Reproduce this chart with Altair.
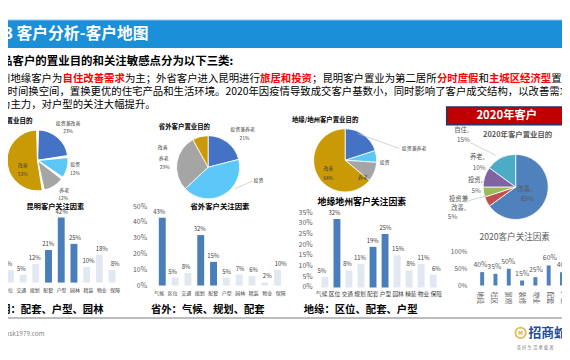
import altair as alt
import pandas as pd

FONT = "Noto Sans CJK SC"
OFF = 8
W, H = 562, 352

# ---------------- data ----------------
factor_cats = ["气候", "区位", "交通", "规划", "配套", "户型", "园林", "精装", "物业", "保障"]
km_vals = [2, 8, 5, 12, 21, 42, 25, 10, 18, 8]
km_hi = ["配套", "户型", "园林"]
sw_vals = [43, 5, 8, 32, 15, 5, 7, 6, 2, 10]
sw_hi = ["气候", "规划", "配套"]
dy_vals = [5, 32, 8, 11, 19, 25, 15, 8, 11, 6]
dy_hi = ["区位", "配套", "户型"]
y20_cats = ["地段", "社区", "景观", "装修", "物业", "配套", "户型"]
y20_vals = [40, 35, 50, 15, 25, 60, 40]

km_purpose_cats = ["投资兼改善", "投资", "养老", "改善"]
km_purpose = [23, 12, 12, 53]
sw_purpose_cats = ["投资兼养老", "投资", "养老", "改善"]
sw_purpose = [21, 42, 29, 8]
dy_purpose_cats = ["投资兼养老", "投资", "养老", "改善"]
dy_purpose = [20, 6, 10, 64]
y20_purpose_cats = ["改善", "投资兼改善", "投资", "养老", "自住"]
y20_purpose = [65, 5, 5, 10, 15]

# ---------------- styles ----------------
PIE_A = ["#4472c4", "#5bc8f8", "#a5a5a5", "#c99a06"]
PIE_B = ["#4f81bd", "#c0504d", "#9bbb59", "#8064a2", "#4bacc6"]
HI, LO = "#4a7ebb", "#e1e8f1"
DARK = "#404040"
GRAY = "#595959"

layers = []


def X(v):
    return v - OFF


def Y(v):
    return v - OFF


def one():
    return pd.DataFrame({"a": [0]})


def txt(s, x, y, size=7, color=DARK, weight="normal", align="left", angle=0):
    df = pd.DataFrame({"t": [s]})
    layers.append(
        alt.Chart(df).mark_text(font=FONT, fontSize=size, color=color, fontWeight=weight,
                                align=align, baseline="middle", angle=angle)
        .encode(x=alt.value(X(x)), y=alt.value(Y(y)), text="t:N"))


def rect(x1, y1, x2, y2, fill, stroke=None, sw=0):
    kw = dict(fill=fill)
    if stroke:
        kw.update(stroke=stroke, strokeWidth=sw)
    layers.append(alt.Chart(one()).mark_rect(**kw).encode(
        x=alt.value(X(x1)), x2=alt.value(X(x2)), y=alt.value(Y(y1)), y2=alt.value(Y(y2))))


def rule(x1, y1, x2, y2, color="#bfbfbf", sw=0.7):
    layers.append(alt.Chart(one()).mark_rule(color=color, strokeWidth=sw).encode(
        x=alt.value(X(x1)), x2=alt.value(X(x2)), y=alt.value(Y(y1)), y2=alt.value(Y(y2))))


def pie(cats, vals, colors, cx, cy, r, pad=0.0, sw=0.8):
    df = pd.DataFrame({"cat": cats, "v": vals, "i": list(range(len(cats)))})
    layers.append(
        alt.Chart(df).mark_arc(radius=r, padAngle=pad, stroke="white", strokeWidth=sw)
        .encode(theta=alt.Theta("v:Q", stack=True),
                color=alt.Color("cat:N", scale=alt.Scale(domain=cats, range=colors), legend=None),
                order=alt.Order("i:Q"),
                x=alt.value(X(cx)), y=alt.value(Y(cy))))


def bars(cats, vals, hi, first_left, step, bw, base_y, top_val, top_y,
         val_fs=6, cat_fs=5, cat_y=292, cat_angle=0, hi_c=HI, lo_c=LO,
         ticks=None, tick_x=None, tick_fs=7, val_dy=-6, val_color=DARK):
    n = len(cats)
    pi = 1 - bw / step
    po = 0.5
    x0 = first_left - step * po
    x1 = x0 + step * (n - pi + 2 * po)
    df = pd.DataFrame({"cat": cats, "val": vals,
                       "hi": [c in hi for c in cats],
                       "lab": [f"{v}%" for v in vals]})
    xs = alt.X("cat:N", sort=cats, axis=None,
               scale=alt.Scale(domain=cats, range=[X(x0), X(x1)], paddingInner=pi, paddingOuter=po))
    ys = alt.Y("val:Q", axis=None,
               scale=alt.Scale(domain=[0, top_val], range=[Y(base_y), Y(top_y)], nice=False, zero=True))
    base = alt.Chart(df)
    layers.append(base.mark_bar().encode(
        x=xs, y=ys, color=alt.condition("datum.hi", alt.value(hi_c), alt.value(lo_c))))
    layers.append(base.mark_text(font=FONT, fontSize=val_fs, color=val_color, dy=val_dy,
                                 baseline="middle").encode(x=xs, y=ys, text="lab:N"))
    if cat_angle:
        layers.append(base.mark_text(font=FONT, fontSize=cat_fs, color=GRAY, angle=cat_angle,
                                     align="left", baseline="middle")
                      .encode(x=xs, y=alt.value(Y(cat_y)), text="cat:N"))
    else:
        layers.append(base.mark_text(font=FONT, fontSize=cat_fs, color=DARK, baseline="middle")
                      .encode(x=xs, y=alt.value(Y(cat_y)), text="cat:N"))
    if ticks is not None:
        tdf = pd.DataFrame({"t": ticks, "lab": [f"{t}%" for t in ticks]})
        ty = alt.Y("t:Q", axis=None,
                   scale=alt.Scale(domain=[0, top_val], range=[Y(base_y), Y(top_y)], nice=False, zero=True))
        layers.append(alt.Chart(tdf).mark_text(font=FONT, fontSize=tick_fs, color=GRAY,
                                               align="right", baseline="middle")
                      .encode(x=alt.value(X(tick_x)), y=ty, text="lab:N"))


# ---------------- header ----------------
rule(-10, 17, 580, 17, color="#bfe0f4", sw=1)
rect(-10, 18, 580, 46, "#1b8fd7")
txt("1.3 客户分析-客户地图", -11, 32, size=16, color="white", weight="bold")

txt("品客户的置业目的和关注敏感点分为以下三类:", 1, 60, size=11.6, color="#000000", weight="bold")

FS = 10.55
segs = [("州地缘客户为", "#000000"), ("自住改善需求", "#ff0000"),
        ("为主；外省客户进入昆明进行", "#000000"), ("旅居和投资", "#ff0000"),
        ("；昆明客户置业为第二居所", "#000000"), ("分时度假", "#ff0000"),
        ("和", "#000000"), ("主城区经济型", "#ff0000"), ("置业", "#000000")]
pos = 0
for s, c in segs:
    txt(s, 0 + pos * FS, 78, size=FS, color=c, weight="bold" if c != "#000000" else "normal")
    pos += len(s)
txt("，时间换空间，置换更优的住宅产品和生活环境。2020年因疫情导致成交客户基数小，同时影响了客户成交结构，以改善需求",
    -3, 91, size=FS, color="#000000")
txt("为主力，对户型的关注大幅提升。", 0, 104, size=FS, color="#000000")

# ---------------- pies ----------------
txt("昆明客户置业目的", -20, 120, size=6.6, color="#000000", weight="bold")
pie(km_purpose_cats, km_purpose, PIE_A, 38, 160, 31, pad=0.06, sw=1.2)
for s, x, y in [("投资兼改善", 69, 122), ("23%", 69, 130), ("投资", 76, 164), ("12%", 76, 173),
                ("养老", 65, 190), ("12%", 64, 198), ("改善", 23, 165), ("53%", 23, 174)]:
    txt(s, x, y, size=5, align="center")

txt("省外客户置业目的", 161, 126, size=6.5, color="#000000", weight="bold")
pie(sw_purpose_cats, sw_purpose, PIE_A, 211, 167, 32, sw=0.8)
rule(238, 189, 256, 181)
for s, x, y in [("投资兼养老", 246, 128), ("21%", 248, 137), ("投资", 262, 180),
                ("养老", 166, 158), ("29%", 167, 167), ("改善", 165, 147)]:
    txt(s, x, y, size=5, align="center")

txt("地缘/地州客户置业目的", 296, 119, size=6.5, color="#000000", weight="bold")
pie(dy_purpose_cats, dy_purpose, PIE_A, 350, 160, 32, sw=0.8)
rule(363, 133, 405, 148)
for s, x, y in [("投资兼养老", 420, 148), ("投资", 390, 162), ("养老", 368, 177),
                ("改善", 333, 168), ("64%", 333, 178)]:
    txt(s, x, y, size=5, align="center")

# 2020 box and pie
rect(453, 106, 580, 124, "#c00000", stroke="#1f3864", sw=1.5)
txt("2020年客户", 514, 115, size=11.5, color="white", weight="bold", align="center")
txt("2020年客户置业目的", 525, 134, size=7.5, color=GRAY, weight="bold", align="center")
pie(y20_purpose_cats, y20_purpose, PIE_B, 523, 187, 33, sw=0.8)
rule(477, 142, 503, 155)
rule(475, 201, 494, 196)
for s, x, y in [("自住,", 468, 129), ("15%", 470, 139), ("养老,", 484, 157), ("10%", 486, 168),
                ("投资,", 482, 180), ("5%", 483, 191), ("投资兼", 465, 199), ("改善,", 465, 208),
                ("5%", 459, 217), ("改善,", 532, 189), ("65%", 535, 199)]:
    txt(s, x, y, size=6.5, color=GRAY, align="center")

# ---------------- bar charts ----------------
bars(factor_cats, km_vals, km_hi, -6, 12.9, 7, 284, 50, 205.4, cat_y=292)
txt("昆明客户关注因素", 56, 207, size=7.3, color="#000000", weight="bold", align="center")

bars(factor_cats, sw_vals, sw_hi, 161, 13.0, 7, 287, 50, 207, cat_y=295,
     ticks=[0, 10, 20, 30, 40, 50], tick_x=149)
txt("省外客户关注因素", 223, 207, size=7.5, color="#000000", weight="bold", align="center")

bars(factor_cats, dy_vals, dy_hi, 326, 12.2, 7, 289, 35, 213, cat_y=296, cat_fs=5.8,
     ticks=[0, 5, 10, 15, 20, 25, 30, 35], tick_x=317)
txt("地缘地州客户关注因素", 367, 202, size=9, color="#000000", weight="bold", align="center")

bars(y20_cats, y20_vals, y20_cats, 487, 13.5, 4, 287, 100, 253, val_fs=7, cat_fs=6.5,
     cat_y=293, cat_angle=90, hi_c="#4f81bd", ticks=[0, 50, 100], tick_x=474, tick_fs=6.5,
     val_dy=-7, val_color=GRAY)
txt("2020客户关注因素", 522, 238, size=8.7, color=GRAY, align="center")

# captions
txt("昆明：配套、户型、园林", -10.5, 312, size=10.5, color="#000000", weight="bold")
txt("省外：气候、规划、配套", 153, 312, size=10.5, color="#000000", weight="bold")
txt("地缘：区位、配套、户型", 308, 312, size=10.5, color="#000000", weight="bold")

# ---------------- footer ----------------
rule(-10, 320, 580, 320, color="#a6a6a6", sw=1.5)
txt("cmsk1979.com", 0, 336, size=6.5, color="#7f7f7f")
layers.append(alt.Chart(one()).mark_point(shape="circle", size=110, filled=False, color="#d4a017",
                                           strokeWidth=1.8)
              .encode(x=alt.value(X(528)), y=alt.value(Y(335))))
txt("M", 528, 335, size=5.5, color="#d4a017", weight="bold", align="center")
txt("招商蛇口", 536, 335, size=13, color="#1f4e9a", weight="bold")
txt("美 好 生 活 承 载 者", 524, 350, size=4.5, color="#7f7f7f")

chart = (alt.layer(*layers)
         .resolve_scale(x="independent", y="independent", color="independent", theta="independent")
         .properties(width=W, height=H, autosize=alt.AutoSizeParams(type="none"), padding=0,
                     background="white")
         .configure_view(stroke=None))

chart.save("out.html", embed_options={"renderer": "svg", "actions": False})
